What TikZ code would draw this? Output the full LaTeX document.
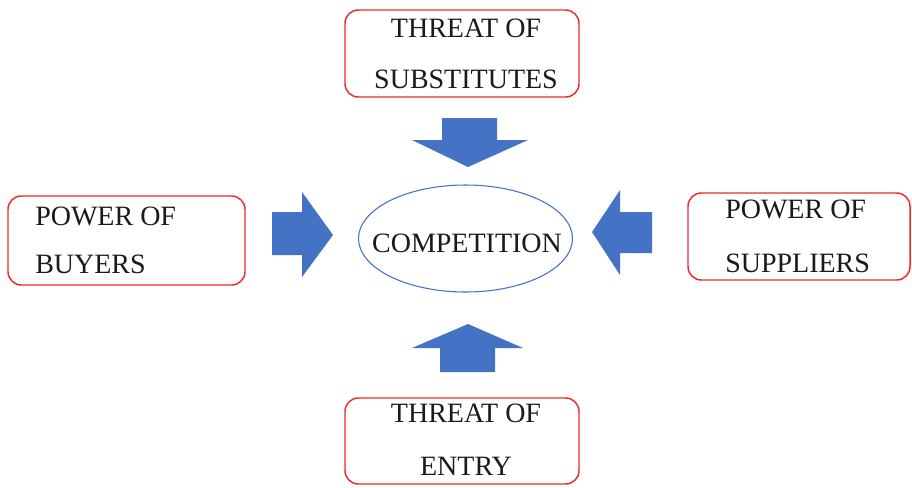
\documentclass[tikz,border=0pt]{standalone}
\usepackage{fontspec}
\setmainfont{Liberation Serif}
\usetikzlibrary{shapes.geometric}
\definecolor{offblue}{HTML}{4472C4}
\definecolor{boxred}{HTML}{F0282D}
\definecolor{txt}{HTML}{1A1A1A}
\tikzset{
  box/.style={draw=boxred, line width=1.1pt, rounded corners=10pt, fill=white, inner sep=0pt},
  lbl/.style={inner sep=0pt, text=txt, font=\fontsize{21}{25}\selectfont},
  blockarrow/.style={fill=offblue, draw=none},
  oval/.style={ellipse, draw=offblue, line width=0.8pt, inner sep=0pt}
}
\begin{document}
\begin{tikzpicture}[x=0.75pt,y=-0.75pt]
\useasboundingbox[fill=white] (0,0) rectangle (912,487);
% boxes
\node[box, minimum width=175.5pt, minimum height=65.25pt] (top) at (462,53.5) {};
\node[box, minimum width=177.75pt, minimum height=66.75pt] (left) at (126.5,240.5) {};
\node[box, minimum width=166.5pt, minimum height=65.25pt] (right) at (799,236.5) {};
\node[box, minimum width=175.5pt, minimum height=64.5pt] (bottom) at (462,441) {};
% ellipse
\node[oval, minimum width=160.5pt, minimum height=80.25pt] (comp) at (465.5,238.5) {};
% texts
\node[lbl, anchor=base] (t1) at (466,37) {THREAT OF};
\node[lbl, anchor=base] (t2) at (466,88) {SUBSTITUTES};
\node[lbl, anchor=base west] (l1) at (35,225) {POWER OF};
\node[lbl, anchor=base west] (l2) at (35,273) {BUYERS};
\node[lbl, anchor=base west] (r1) at (725,218) {POWER OF};
\node[lbl, anchor=base west] (r2) at (725,272) {SUPPLIERS};
\node[lbl, anchor=base] (b1) at (466,422) {THREAT OF};
\node[lbl, anchor=base] (b2) at (466,475) {ENTRY};
\node[lbl, anchor=base] (c1) at (467,252) {COMPETITION};
% block arrows
\fill[blockarrow] (442,118) -- (497,118) -- (497,140) -- (528,140) -- (468,167) -- (412,140) -- (442,140) -- cycle;
\fill[blockarrow] (272,212) -- (302,212) -- (302,192) -- (333,235) -- (302,277) -- (302,255) -- (272,255) -- cycle;
\fill[blockarrow] (652,212) -- (620,212) -- (620,190) -- (592,232) -- (620,275) -- (620,253) -- (652,253) -- cycle;
\fill[blockarrow] (440,372) -- (440,348) -- (412,348) -- (468,324) -- (523,348) -- (495,348) -- (495,372) -- cycle;
\end{tikzpicture}
\end{document}
